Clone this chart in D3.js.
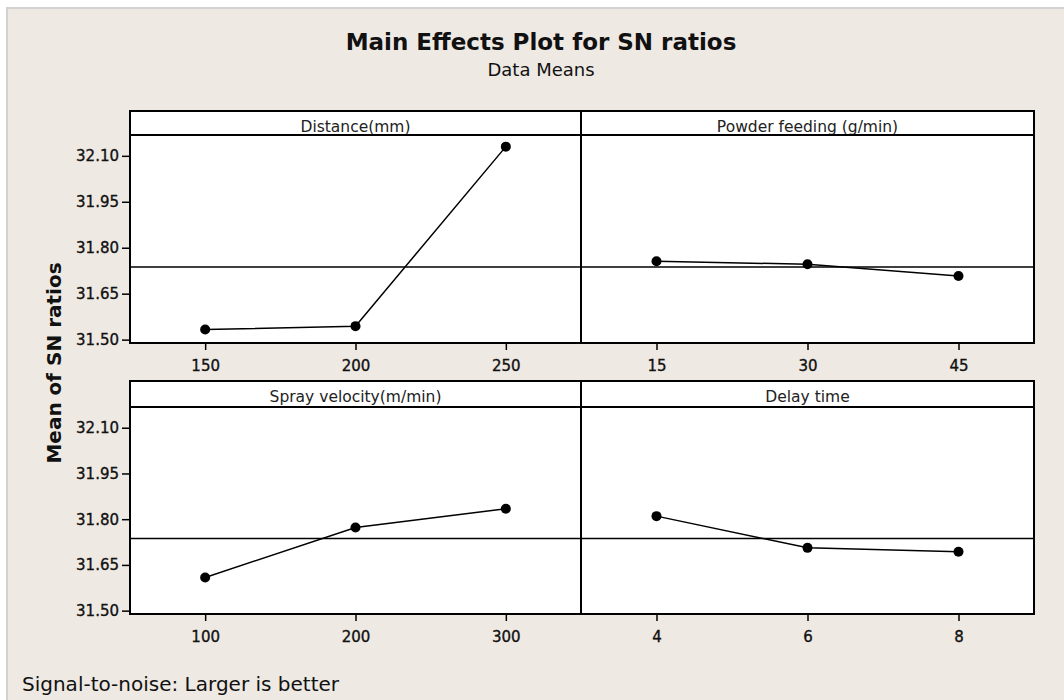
<!DOCTYPE html>
<html>
<head>
<meta charset="utf-8">
<script src="https://cdn.jsdelivr.net/npm/d3@7"></script>
<style>
    html, body { margin: 0; padding: 0; background: #fff; }
    svg { display: block; }
    .axis text { font-family: "DejaVu Sans", sans-serif; font-size: 15px; fill: #111; stroke: #111; stroke-width: 0.35px; }
    .axis line { stroke: #000; stroke-width: 1.5; }
    .axis path { display: none; }
</style>
</head>
<body>
<div class="chart"></div>
<script>
// Values (mean SN ratio per level)
const factorNames = ['Distance(mm)', 'Powder feeding (g/min)', 'Spray velocity(m/min)', 'Delay time'];

const distanceLevels = ['150', '200', '250'];
const distanceMeans = [31.533, 31.544, 32.130];

const powderLevels = ['15', '30', '45'];
const powderMeans = [31.756, 31.746, 31.708];

const sprayLevels = ['100', '200', '300'];
const sprayMeans = [31.609, 31.773, 31.834];

const delayLevels = ['4', '6', '8'];
const delayMeans = [31.810, 31.706, 31.693];

const yTicks = [31.50, 31.65, 31.80, 31.95, 32.10];
const yDomain = [31.489, 32.168];

const W = 1064, H = 700;

const svg = d3.select('.chart').append('svg').attr('width', W).attr('height', H);

// Outer window: white edge, grey border, beige fill
svg.append('rect').attr('x', 7).attr('y', 8).attr('width', W).attr('height', H)
    .attr('fill', '#eee9e3').attr('stroke', '#d2d2d2').attr('stroke-width', 2);

const panels = [
    {name: factorNames[0], levels: distanceLevels, means: distanceMeans, col: 0, row: 0},
    {name: factorNames[1], levels: powderLevels, means: powderMeans, col: 1, row: 0},
    {name: factorNames[2], levels: sprayLevels, means: sprayMeans, col: 0, row: 1},
    {name: factorNames[3], levels: delayLevels, means: delayMeans, col: 1, row: 1}
];

// grand mean of all SN ratios -> reference line
const grandMean = d3.mean([].concat(distanceMeans, powderMeans, sprayMeans, delayMeans));

const cols = [130, 581, 1034];
const rows = [
    {top: 111, plotTop: 135, plotBottom: 343},
    {top: 381, plotTop: 407, plotBottom: 614}
];

panels.forEach((p) => {
    const r = rows[p.row];
    const x0 = cols[p.col], x1 = cols[p.col + 1];

    let x = d3.scalePoint().domain(p.levels).range([x0, x1]).padding(0.5),
        y = d3.scaleLinear().domain(yDomain).range([r.plotBottom, r.plotTop]);

    const g = svg.append('g').attr('class', 'panel');

    // strip + plot area
    g.append('rect').attr('x', x0).attr('y', r.top)
        .attr('width', x1 - x0).attr('height', r.plotBottom - r.top)
        .attr('fill', '#fff');

    g.append('text')
        .attr('x', (x0 + x1) / 2).attr('y', r.top + 20.5)
        .attr('text-anchor', 'middle')
        .style('font-family', '"DejaVu Sans", sans-serif')
        .style('font-size', '15.5px')
        .attr('fill', '#222')
        .text(p.name);

    // mean reference line
    g.append('line')
        .attr('x1', x0).attr('x2', x1)
        .attr('y1', y(grandMean)).attr('y2', y(grandMean))
        .attr('stroke', '#000').attr('stroke-width', 1.5);

    let line = d3.line()
        .x((d, i) => x(p.levels[i]))
        .y((d) => y(d));

    g.append('path').datum(p.means)
        .attr('d', line)
        .attr('fill', 'none')
        .attr('stroke', '#000')
        .attr('stroke-width', 1.5);

    g.selectAll('circle').data(p.means).enter()
        .append('circle')
        .attr('r', 5)
        .attr('cx', (d, i) => x(p.levels[i]))
        .attr('cy', (d) => y(d))
        .attr('fill', '#000');

    // frame lines
    g.append('rect').attr('x', x0).attr('y', r.top)
        .attr('width', x1 - x0).attr('height', r.plotBottom - r.top)
        .attr('fill', 'none').attr('stroke', '#000').attr('stroke-width', 2);
    g.append('line')
        .attr('x1', x0).attr('x2', x1)
        .attr('y1', r.plotTop).attr('y2', r.plotTop)
        .attr('stroke', '#000').attr('stroke-width', 2);

    svg.append('g').attr('class', 'axis')
        .attr('transform', 'translate(0,' + r.plotBottom + ')')
        .call(d3.axisBottom(x).tickSize(7).tickPadding(10));

    if (p.col === 0) {
        svg.append('g').attr('class', 'axis')
            .attr('transform', 'translate(' + x0 + ',0)')
            .call(d3.axisLeft(y).tickValues(yTicks).tickSize(8).tickPadding(3)
                .tickFormat(d3.format('.2f')));
    }
});

svg.append('text')
    .attr('x', 541).attr('y', 50)
    .attr('text-anchor', 'middle')
    .style('font-family', '"DejaVu Sans", sans-serif')
    .style('font-size', '23px').style('font-weight', 'bold')
    .attr('fill', '#111')
    .text('Main Effects Plot for SN ratios');

svg.append('text')
    .attr('x', 541).attr('y', 76)
    .attr('text-anchor', 'middle')
    .style('font-family', '"DejaVu Sans", sans-serif')
    .style('font-size', '18px')
    .attr('fill', '#111')
    .text('Data Means');

svg.append('text')
    .attr('transform', 'translate(61,' + 363 + ') rotate(-90)')
    .attr('text-anchor', 'middle')
    .style('font-family', '"DejaVu Sans", sans-serif')
    .style('font-size', '20px').style('font-weight', 'bold')
    .attr('fill', '#111')
    .text('Mean of SN ratios');

svg.append('text')
    .attr('x', 22).attr('y', 691)
    .style('font-family', '"DejaVu Sans", sans-serif')
    .style('font-size', '20px')
    .attr('fill', '#111')
    .text('Signal-to-noise: Larger is better');
</script>
</body>
</html>
